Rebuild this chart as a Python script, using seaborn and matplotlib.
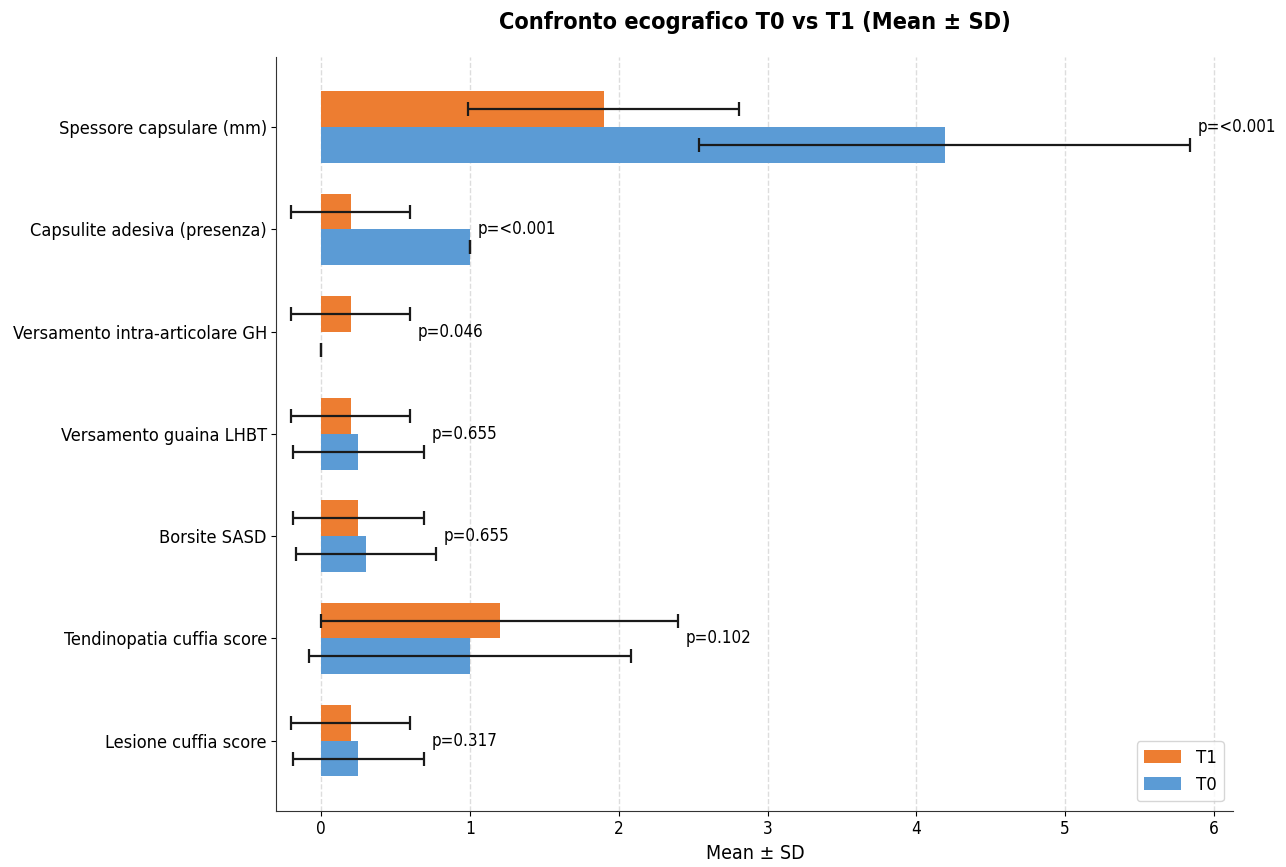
import numpy as np
import pandas as pd
import matplotlib
matplotlib.use("Agg")
import matplotlib.pyplot as plt
import seaborn as sns

# dati
variabili = [
    "Spessore capsulare (mm)",
    "Capsulite adesiva (presenza)",
    "Versamento intra-articolare GH",
    "Versamento guaina LHBT",
    "Borsite SASD",
    "Tendinopatia cuffia score",
    "Lesione cuffia score",
]
t0_mean = [4.19, 1.0, 0.0, 0.25, 0.30, 1.0, 0.25]
t0_sd = [1.65, 0.0, 0.0, 0.44, 0.47, 1.08, 0.44]
t1_mean = [1.9, 0.2, 0.2, 0.2, 0.25, 1.2, 0.2]
t1_sd = [0.91, 0.4, 0.4, 0.4, 0.44, 1.2, 0.4]
p_labels = ["p=<0.001", "p=<0.001", "p=0.046", "p=0.655", "p=0.655", "p=0.102", "p=0.317"]

sns.set_style("ticks")
plt.rcParams["font.family"] = ["DejaVu Sans"]
plt.rcParams["font.stretch"] = "condensed"
for k in ["text.color", "axes.labelcolor", "xtick.color", "ytick.color"]:
    plt.rcParams[k] = "black"
plt.rcParams["axes.edgecolor"] = "#333333"

df = pd.DataFrame({
    "variabile": variabili * 2,
    "mean": t1_mean + t0_mean,
    "tempo": ["T1"] * len(variabili) + ["T0"] * len(variabili),
})

fig, ax = plt.subplots(figsize=(12.86, 8.67), dpi=100)
h = 0.35
sns.barplot(data=df, y="variabile", x="mean", hue="tempo", hue_order=["T1", "T0"],
            palette={"T1": "#ED7D31", "T0": "#5B9BD5"}, width=2 * h, orient="h",
            errorbar=None, ax=ax, saturation=1, linewidth=0, zorder=2)

y = np.arange(len(variabili))
ax.errorbar(t1_mean, y - h / 2, xerr=t1_sd, fmt="none", ecolor="#1a1a1a",
            elinewidth=1.6, capsize=5, capthick=1.6, zorder=3)
ax.errorbar(t0_mean, y + h / 2, xerr=t0_sd, fmt="none", ecolor="#1a1a1a",
            elinewidth=1.6, capsize=5, capthick=1.6, zorder=3)

# p-value a destra delle barre
for i, p in enumerate(p_labels):
    xmax = max(t0_mean[i] + t0_sd[i], t1_mean[i] + t1_sd[i])
    ax.text(xmax + 0.05, y[i], p, va="center", ha="left", fontsize=12.2)

ax.set_xlim(-0.3, 6.13)
ax.set_xlabel("Mean ± SD", fontsize=14)
ax.set_ylabel("")
ax.set_title("Confronto ecografico T0 vs T1 (Mean ± SD)", fontsize=16.8, fontweight="bold", pad=20)
ax.tick_params(axis="y", labelsize=13.1)
ax.tick_params(axis="x", labelsize=12.3)
ax.xaxis.grid(True, linestyle="--", color="#dddddd", linewidth=1, zorder=0)
ax.set_axisbelow(True)
sns.despine(ax=ax)
ax.legend(loc="lower right", fontsize=13.3, title=None)

fig.subplots_adjust(left=0.215, right=0.959, top=0.934, bottom=0.065)
fig.savefig("out.png", dpi=100)
